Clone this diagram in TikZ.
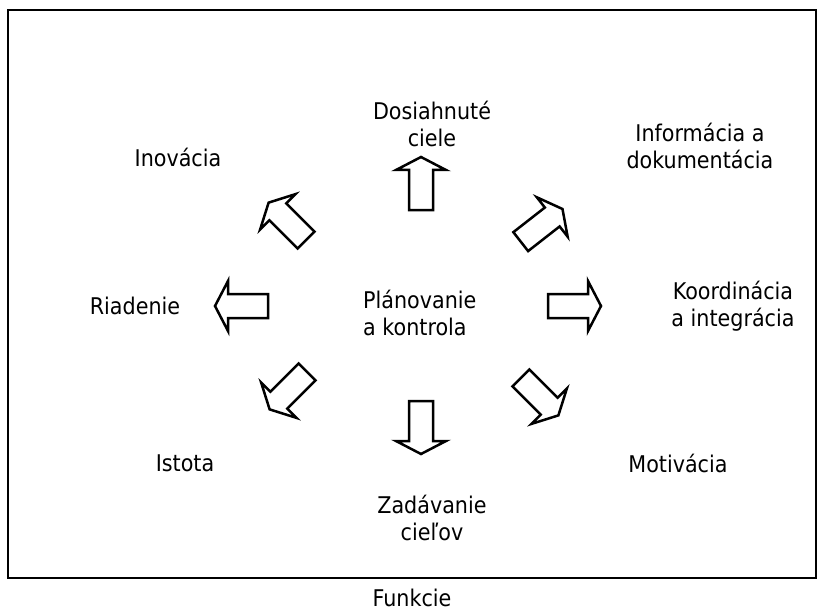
\documentclass[tikz,border=0pt]{standalone}
\usepackage{fontspec}
\setmainfont{DejaVu Sans Condensed}
\usetikzlibrary{arrows.meta}
\tikzset{%
pics/.cd,
blockarrow/.style={
  code={\draw[line width=2.5pt, line join=miter]
       (-27,-12) -- (13,-12) -- (13,-25) -- (26,0) -- (13,25) -- (13,12) -- (-27,12) -- cycle;
  }
},
}
\tikzset{lbl/.style={align=center, inner sep=0pt, font=\fontsize{23}{27}\selectfont}}

\begin{document}
\begin{tikzpicture}[x=1pt, y={(0pt,-1pt)}]
 \useasboundingbox (0,0) rectangle (822,615);
 \draw[line width=2pt] (8,10) rectangle (816,578);
 % center
 \node[lbl, align=left, anchor=west] (planovanie) at (363,313) {Plánovanie\\a kontrola};
 % labels round it
 \node[lbl] (dosiahnute) at (432,124) {Dosiahnuté\\ciele};
 \node[lbl] (inovacia) at (178,157) {Inovácia};
 \node[lbl] (informacia) at (700,146) {Informácia a\\dokumentácia};
 \node[lbl] (riadenie) at (135,306) {Riadenie};
 \node[lbl] (koordinacia) at (733,306) {Koordinácia\\a integrácia};
 \node[lbl] (istota) at (185,463) {Istota};
 \node[lbl] (motivacia) at (678,463) {Motivácia};
 \node[lbl] (zadavanie) at (432,518) {Zadávanie\\cieľov};
 \node[lbl] (funkcie) at (412,598) {Funkcie};
 % block arrows
 \pic[rotate=90] at (421,183) {blockarrow};
 \pic[rotate=-90] at (421,428) {blockarrow};
 \pic[rotate=180] at (241,306) {blockarrow};
 \pic at (575,306) {blockarrow};
 \pic[rotate=135] at (287,221) {blockarrow};
 \pic[rotate=38] at (542,225) {blockarrow};
 \pic[rotate=225] at (288,391) {blockarrow};
 \pic[rotate=-45] at (540,397) {blockarrow};
\end{tikzpicture}
\end{document}
